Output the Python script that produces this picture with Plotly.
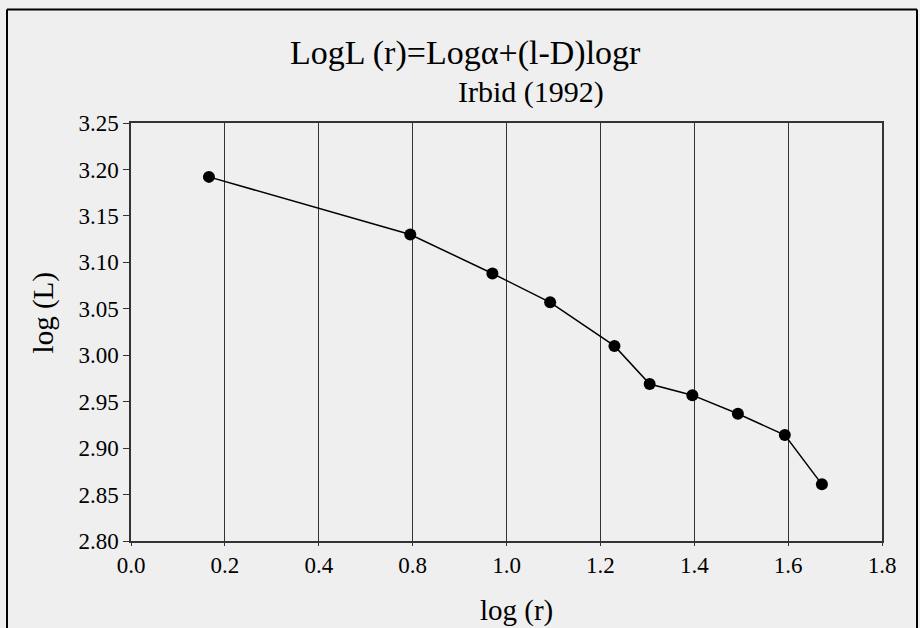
import plotly.graph_objects as go

# Data (x in axis-position units, as plotted on the reference's axis)
log_r_pos = [0.166, 0.595, 0.770, 0.893, 1.030, 1.105, 1.196, 1.293, 1.393, 1.472]
log_L = [3.192, 3.130, 3.088, 3.057, 3.010, 2.969, 2.957, 2.937, 2.914, 2.861]

x_tickvals = [0.0, 0.2, 0.4, 0.6, 0.8, 1.0, 1.2, 1.4, 1.6]
x_ticktext = ["0.0", "0.2", "0.4", "0.8", "1.0", "1.2", "1.4", "1.6", "1.8"]
y_tickvals = [2.80, 2.85, 2.90, 2.95, 3.00, 3.05, 3.10, 3.15, 3.20, 3.25]

FONT = "Liberation Serif, Times New Roman, serif"
BG = "#efefef"

fig = go.Figure()
fig.add_trace(go.Scatter(
    x=log_r_pos, y=log_L, mode="lines+markers",
    line=dict(color="black", width=1.5),
    marker=dict(color="black", size=12),
    showlegend=False, hoverinfo="x+y",
))

W, H = 920, 628
L, R, T, B = 131, 38, 122.5, 87.3
pw, ph = W - L - R, H - T - B

def px(x):
    return (x - L) / pw

def py(y):
    return (H - B - y) / ph

def ann(text, x, y, size, angle=0):
    return dict(text=text, x=px(x), y=py(y), xref="paper", yref="paper",
                xanchor="center", yanchor="middle", showarrow=False,
                textangle=angle, font=dict(size=size, family=FONT))

fig.update_layout(
    width=W, height=H,
    margin=dict(l=L, r=R, t=T, b=B),
    paper_bgcolor=BG, plot_bgcolor=BG,
    font=dict(family=FONT, color="black", size=23),
    xaxis=dict(
        range=[0, 1.6], tickvals=x_tickvals, ticktext=x_ticktext,
        showgrid=True, gridcolor="#333333", gridwidth=1,
        showline=True, linecolor="#333333", linewidth=1.5, mirror=True,
        ticks="outside", ticklen=3, tickcolor="#333333",
        zeroline=False, tickfont=dict(size=23, family=FONT),
    ),
    yaxis=dict(
        range=[2.80, 3.25], tickvals=y_tickvals, tickformat=".2f",
        showgrid=False,
        showline=True, linecolor="#333333", linewidth=1.5, mirror=True,
        ticks="outside", ticklen=6, tickcolor="#333333",
        zeroline=False, tickfont=dict(size=23, family=FONT),
    ),
    annotations=[
        ann("LogL (r)=Log\u03b1+(l-D)logr", 465, 52, 34),
        ann("Irbid (1992)", 531, 91, 30),
        ann("log (L)", 43, 313, 29, -90),
        ann("log (r)", 516, 610, 29),
    ],
    shapes=[
        dict(type="line", xref="paper", yref="paper",
             x0=px(7), x1=px(7), y0=py(9), y1=py(640),
             line=dict(color="black", width=2)),
        dict(type="line", xref="paper", yref="paper",
             x0=px(7), x1=px(917), y0=py(9), y1=py(9),
             line=dict(color="black", width=2)),
        dict(type="line", xref="paper", yref="paper",
             x0=px(917), x1=px(917), y0=py(9), y1=py(640),
             line=dict(color="black", width=2)),
    ],
)

fig.write_html("out.html", config={"displayModeBar": False},
               post_script="document.body.style.margin='0px';")
